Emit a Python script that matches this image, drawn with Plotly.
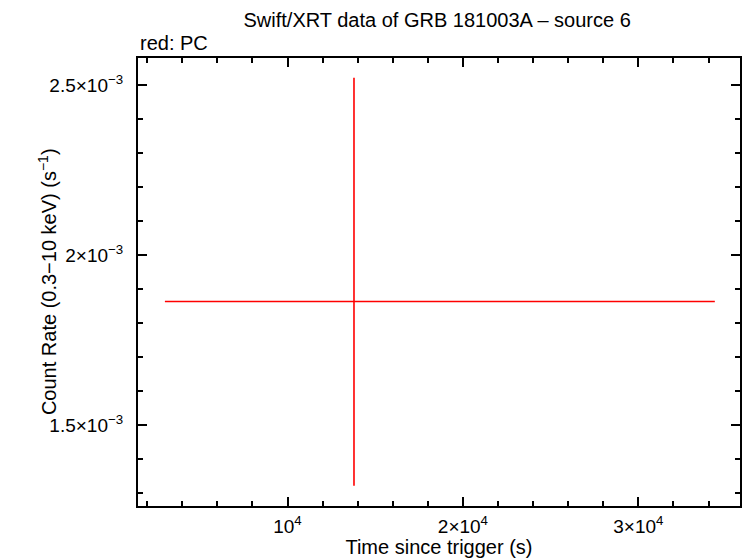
import plotly.graph_objects as go

# single PC-mode point
t = [13790]
t_minus = [10780]
t_plus = [20570]
rate = [1.8635e-3]
rate_minus = [0.541e-3]
rate_plus = [0.6575e-3]

x_ticks = [1e4, 2e4, 3e4]
x_labels = ['10<sup>4</sup>', '2×10<sup>4</sup>', '3×10<sup>4</sup>']
y_ticks = [1.5e-3, 2e-3, 2.5e-3]
y_labels = ['1.5×10<sup>−3</sup>', '2×10<sup>−3</sup>', '2.5×10<sup>−3</sup>']

fig = go.Figure()
fig.add_trace(go.Scatter(
    x=t, y=rate,
    mode='markers',
    marker=dict(size=1, color='#ff0000'),
    error_x=dict(type='data', symmetric=False, array=t_plus, arrayminus=t_minus,
                 color='#ff0000', thickness=1.6, width=0),
    error_y=dict(type='data', symmetric=False, array=rate_plus, arrayminus=rate_minus,
                 color='#ff0000', thickness=1.6, width=0),
    showlegend=False,
    hoverinfo='skip'
))

axis_common = dict(
    showline=True, linecolor='black', linewidth=2, mirror='allticks',
    ticks='inside', ticklen=9, tickwidth=1.5, tickcolor='black',
    showgrid=False, zeroline=False,
    tickfont=dict(size=19, color='black'),
)

fig.update_xaxes(
    range=[1477, 35795],
    tickvals=x_ticks, ticktext=x_labels,
    ticklabelstandoff=2,
    minor=dict(dtick=2000, tick0=0, ticks='inside', ticklen=5, tickwidth=1.5,
               tickcolor='black', showgrid=False),
    title=dict(text='Time since trigger (s)', font=dict(size=20, color='black'), standoff=3),
    **axis_common
)
fig.update_yaxes(
    range=[1.263e-3, 2.579e-3],
    tickvals=y_ticks, ticktext=y_labels,
    ticklabelstandoff=9,
    minor=dict(dtick=1e-4, tick0=0, ticks='inside', ticklen=5, tickwidth=1.5,
               tickcolor='black', showgrid=False),
    **axis_common
)

# y title sits between the tick labels, closer than plotly's standoff allows
fig.add_annotation(
    text='Count Rate (0.3−10 keV) (s<sup>−1</sup>)',
    xref='paper', yref='paper', x=-0.151, y=0.5,
    xanchor='center', yanchor='middle', textangle=-90, showarrow=False,
    font=dict(size=20, color='black')
)

fig.add_annotation(
    text='red: PC', xref='paper', yref='paper', x=0, y=1.0,
    xanchor='left', yanchor='bottom', yshift=2, showarrow=False,
    font=dict(size=20, color='black')
)

fig.update_layout(
    width=746, height=558,
    paper_bgcolor='white', plot_bgcolor='white',
    font=dict(family='Liberation Sans, Arial, sans-serif', color='black'),
    margin=dict(l=138, r=4, t=58, b=48),
    title=dict(text='Swift/XRT data of GRB 181003A – source 6',
               x=0.586, xanchor='center', y=0.964, yanchor='middle',
               font=dict(size=20, color='black')),
)

fig.write_html('out.html', config={'displayModeBar': False},
               post_script="document.body.style.margin='0';")
